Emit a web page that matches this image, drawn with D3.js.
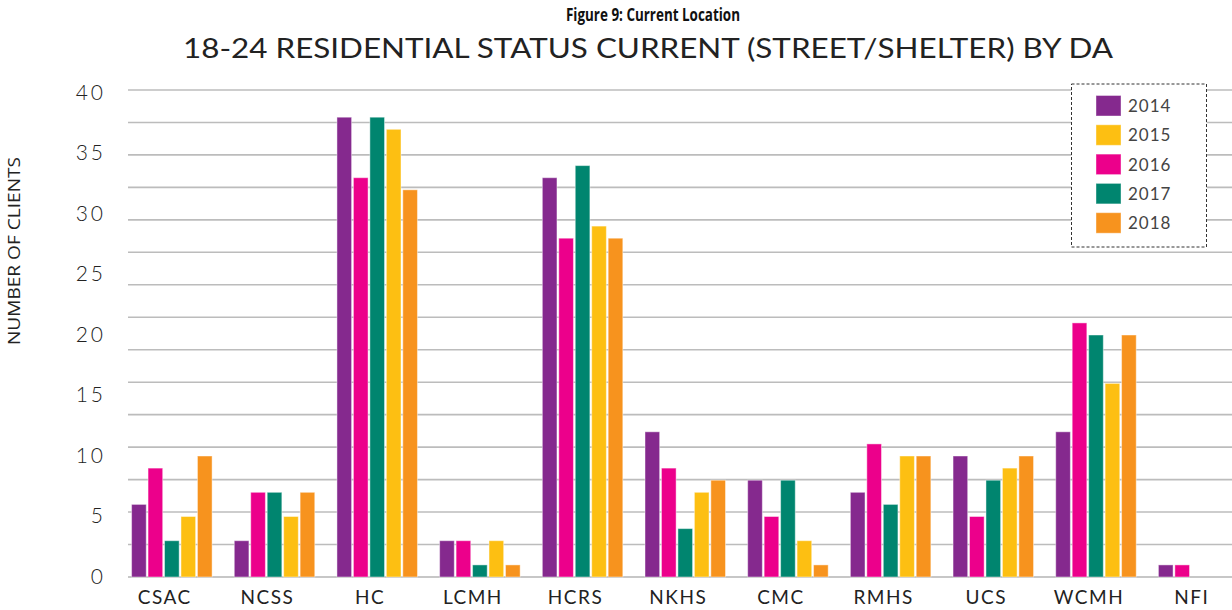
<!DOCTYPE html>
<html>
<head>
<meta charset="utf-8">
<script src="https://cdn.jsdelivr.net/npm/d3@7"></script>
<style>
  html, body { margin: 0; padding: 0; background: #fff; }
  svg { display: block; }
</style>
</head>
<body>
<svg id="chart" width="1232" height="610"></svg>
<script>
// Service providers (x categories)
const categories = ["CSAC", "NCSS", "HC", "LCMH", "HCRS", "NKHS", "CMC", "RMHS", "UCS", "WCMH", "NFI"];

// Client counts per year
const v2014 = [6, 3, 38, 3, 33, 12, 8, 7, 10, 12, 1];
const v2015 = [5, 5, 37, 3, 29, 7, 3, 10, 9, 16, 0];
const v2016 = [9, 7, 33, 3, 28, 9, 5, 11, 5, 21, 1];
const v2017 = [3, 7, 38, 1, 34, 4, 8, 6, 8, 20, 0];
const v2018 = [10, 7, 32, 1, 28, 8, 1, 10, 10, 20, 0];

// Legend order and bar order within each group
const legendYears = ["2014", "2015", "2016", "2017", "2018"];
const barOrder = ["2014", "2016", "2017", "2015", "2018"];

const yTicks = [0, 5, 10, 15, 20, 25, 30, 35, 40];

const seriesValues = { "2014": v2014, "2015": v2015, "2016": v2016, "2017": v2017, "2018": v2018 };
const colors = {
  "2014": "#85298e",
  "2015": "#fdbf12",
  "2016": "#ec008b",
  "2017": "#00856f",
  "2018": "#f7931e"
};

const svg = d3.select("#chart");
const geo = "'Lato', 'Inter', sans-serif";

// Scales
const x0 = d3.scaleBand()
  .domain(categories)
  .range([120.5, 1250])
  .paddingInner(0.216)
  .paddingOuter(0.108);

const x1 = d3.scaleBand()
  .domain(barOrder)
  .range([0, x0.bandwidth()])
  .paddingInner(0.11)
  .paddingOuter(0);

const y = d3.scaleLinear().domain([0, 40]).range([577, 93]);

// Horizontal rules (15 evenly spaced divisions up to the top rule)
const gridTop = 40.25;
const gridDivs = 15;
const gridVals = d3.range(1, gridDivs + 1).map(k => k * gridTop / gridDivs);

svg.append("g")
  .selectAll("line")
  .data(gridVals)
  .join("line")
  .attr("x1", 128).attr("x2", 1232)
  .attr("y1", d => y(d)).attr("y2", d => y(d))
  .attr("stroke", "#bcbcbc")
  .attr("stroke-width", 1.6);

// Baseline
svg.append("line")
  .attr("x1", 128).attr("x2", 1232)
  .attr("y1", y(0)).attr("y2", y(0))
  .attr("stroke", "#b4b4b4")
  .attr("stroke-width", 1.6);

// Bars
const groups = svg.append("g")
  .selectAll("g")
  .data(categories)
  .join("g")
  .attr("transform", d => `translate(${x0(d)},0)`);

groups.selectAll("rect")
  .data((c, i) => barOrder.map(yr => ({ yr, v: seriesValues[yr][i] })).filter(d => d.v > 0))
  .join("rect")
  .attr("x", d => x1(d.yr))
  .attr("width", x1.bandwidth())
  .attr("y", d => y(d.v))
  .attr("height", d => y(0) - y(d.v))
  .attr("fill", d => colors[d.yr])
  .attr("stroke", "#ffffff")
  .attr("stroke-opacity", 0.45)
  .attr("stroke-width", 1);

// Y axis (labels only)
const yAxis = d3.axisLeft(y).tickValues(yTicks).tickSize(0).tickPadding(0);
const gy = svg.append("g").attr("transform", "translate(106,0)").call(yAxis);
gy.select(".domain").remove();
gy.selectAll("text")
  .attr("dy", "0.3em")
  .attr("font-family", geo)
  .attr("font-size", 21)
  .attr("font-weight", 300)
  .attr("letter-spacing", 3)
  .attr("fill", "#222");

// X axis (labels only)
const xAxis = d3.axisBottom(x0).tickSize(0).tickPadding(0);
const gx = svg.append("g").attr("transform", `translate(0,${y(0)})`).call(xAxis);
gx.select(".domain").remove();
gx.selectAll("text")
  .attr("dx", -7)
  .attr("y", 14)
  .attr("dy", "0.71em")
  .attr("font-family", geo)
  .attr("font-size", 19)
  .attr("letter-spacing", 1.5)
  .attr("fill", "#222");

// Y axis title
svg.append("text")
  .attr("transform", "translate(20,251) rotate(-90)")
  .attr("text-anchor", "middle")
  .attr("font-family", "'Open Sans', sans-serif")
  .attr("font-size", 16)
  .attr("textLength", 188)
  .attr("lengthAdjust", "spacingAndGlyphs")
  .attr("fill", "#222")
  .text("NUMBER OF CLIENTS");

// Titles
svg.append("text")
  .attr("x", 653).attr("y", 21)
  .attr("text-anchor", "middle")
  .attr("font-family", "'Open Sans', sans-serif")
  .attr("font-weight", "bold")
  .attr("font-size", 17)
  .attr("textLength", 174)
  .attr("lengthAdjust", "spacingAndGlyphs")
  .attr("fill", "#111")
  .text("Figure 9: Current Location");

svg.append("text")
  .attr("x", 648).attr("y", 58)
  .attr("text-anchor", "middle")
  .attr("font-family", geo)
  .attr("font-size", 26)
  .attr("textLength", 930)
  .attr("lengthAdjust", "spacingAndGlyphs")
  .attr("fill", "#222")
  .text("18-24 RESIDENTIAL STATUS CURRENT (STREET/SHELTER) BY DA");

// Legend
const legend = svg.append("g").attr("transform", "translate(1071.5,84)");
legend.append("rect")
  .attr("width", 135).attr("height", 163)
  .attr("fill", "#fff")
  .attr("stroke", "#333")
  .attr("stroke-width", 1)
  .attr("stroke-dasharray", "3,2");

const items = legend.selectAll("g.item")
  .data(legendYears)
  .join("g")
  .attr("class", "item")
  .attr("transform", (d, i) => `translate(24.5,${11.5 + i * 29.3})`);

items.append("rect")
  .attr("width", 25).attr("height", 20.5)
  .attr("fill", d => colors[d])
  .attr("stroke", "#ffffff")
  .attr("stroke-opacity", 0.4)
  .attr("stroke-width", 1);

items.append("text")
  .attr("x", 32).attr("y", 10.5)
  .attr("dy", "0.35em")
  .attr("font-family", geo)
  .attr("font-size", 17)
  .attr("letter-spacing", 1)
  .attr("fill", "#444")
  .text(d => d);
</script>
</body>
</html>
